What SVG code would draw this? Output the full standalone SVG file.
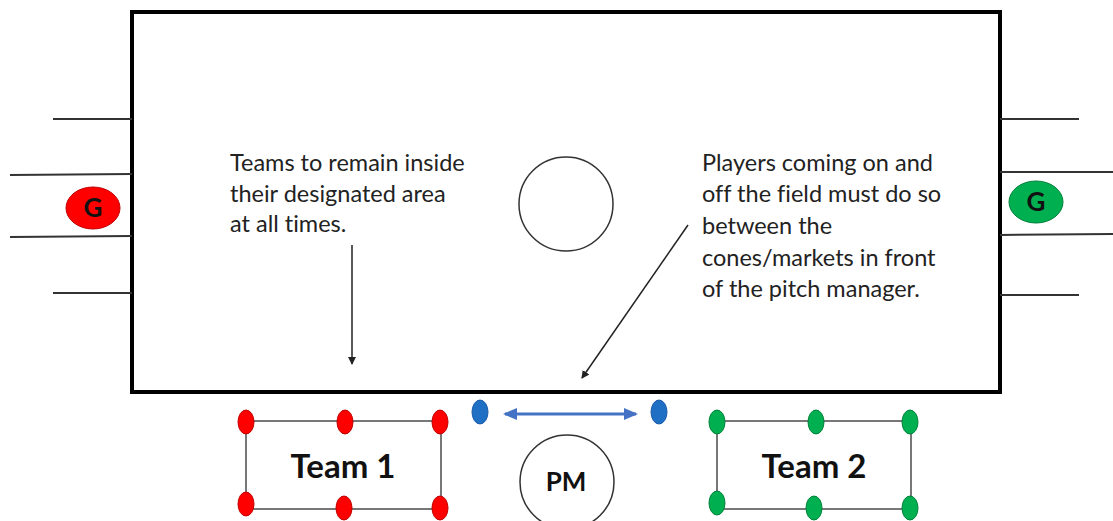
<svg xmlns="http://www.w3.org/2000/svg" width="1113" height="521" viewBox="0 0 1113 521">
<defs>
<style>
.line{stroke:#333;stroke-width:2;fill:none}
.note{font-family:Lato,"Open Sans",sans-serif;font-size:23.5px;fill:#222;font-variant-ligatures:none}
.lbl{font-family:Lato,"Open Sans",sans-serif;font-weight:bold;fill:#111;text-anchor:middle}
.red{fill:#FF0000;stroke:#C00000;stroke-width:1}
.green{fill:#00B050;stroke:#00803a;stroke-width:1}
.blue{fill:#1F6FC5;stroke:#1a5ca8;stroke-width:1}
.team{fill:none;stroke:#777;stroke-width:2}
</style>
<marker id="ah" markerWidth="8" markerHeight="8" refX="7" refY="4" orient="auto" markerUnits="userSpaceOnUse">
<path d="M0,0 L8,4 L0,8 Z" fill="#222"/>
</marker>
<marker id="bh" markerWidth="14" markerHeight="12" refX="12" refY="6" orient="auto-start-reverse" markerUnits="userSpaceOnUse">
<path d="M0,0 L14,6 L0,12 Z" fill="#4472C4"/>
</marker>
</defs>
<rect width="1113" height="521" fill="#fff"/>
<g id="pitch">
<rect x="132" y="12" width="868" height="380" fill="none" stroke="#000" stroke-width="4"/>
<circle cx="566" cy="204" r="47" fill="none" stroke="#333" stroke-width="1.5"/>
</g>
<g id="goal-left">
<line class="line" x1="53" y1="119" x2="132" y2="119"/>
<line class="line" x1="10" y1="175" x2="132" y2="174"/>
<line class="line" x1="10" y1="237" x2="132" y2="236"/>
<line class="line" x1="53" y1="293" x2="132" y2="293"/>
</g>
<g id="goal-right">
<line class="line" x1="1000" y1="119" x2="1079" y2="119"/>
<line class="line" x1="1000" y1="172" x2="1113" y2="172"/>
<line class="line" x1="1000" y1="235" x2="1113" y2="234"/>
<line class="line" x1="1000" y1="295" x2="1079" y2="295"/>
</g>
<g id="goalie-red">
<ellipse class="red" cx="93" cy="208" rx="27" ry="21"/>
<text class="lbl" x="93" y="217" font-size="26">G</text>
</g>
<g id="goalie-green">
<ellipse class="green" cx="1036" cy="202" rx="27" ry="21"/>
<text class="lbl" x="1036" y="211" font-size="26">G</text>
</g>
<g id="note-left">
<text class="note" x="230" y="171">Teams to remain inside</text>
<text class="note" x="230" y="202">their designated area</text>
<text class="note" x="230" y="232">at all times.</text>
</g>
<g id="note-right">
<text class="note" x="702" y="171">Players coming on and</text>
<text class="note" x="702" y="202">off the field must do so</text>
<text class="note" x="702" y="234">between the</text>
<text class="note" x="702" y="266">cones/markets in front</text>
<text class="note" x="702" y="297">of the pitch manager.</text>
</g>
<g id="connectors">
<line x1="352" y1="245" x2="352" y2="364" stroke="#222" stroke-width="1.5" marker-end="url(#ah)"/>
<line x1="688" y1="225" x2="582" y2="378" stroke="#222" stroke-width="1.5" marker-end="url(#ah)"/>
<line x1="505" y1="414" x2="636" y2="414" stroke="#4472C4" stroke-width="3" marker-start="url(#bh)" marker-end="url(#bh)"/>
</g>
<g id="team1">
<rect class="team" x="246" y="421" width="195" height="88"/>
<ellipse class="red" cx="246" cy="422" rx="8" ry="12"/>
<ellipse class="red" cx="345" cy="422" rx="8" ry="12"/>
<ellipse class="red" cx="440" cy="422" rx="8" ry="12"/>
<ellipse class="red" cx="246" cy="504" rx="8" ry="12"/>
<ellipse class="red" cx="344" cy="508" rx="8" ry="12"/>
<ellipse class="red" cx="440" cy="508" rx="8" ry="12"/>
<text class="lbl" x="343" y="478" font-size="33">Team 1</text>
</g>
<g id="cones">
<ellipse class="blue" cx="480" cy="412" rx="8" ry="12"/>
<ellipse class="blue" cx="659" cy="412" rx="8" ry="12"/>
</g>
<g id="pm">
<circle cx="567" cy="482" r="47" fill="#fff" stroke="#333" stroke-width="1.5"/>
<text class="lbl" x="566" y="491" font-size="26">PM</text>
</g>
<g id="team2">
<rect class="team" x="717" y="421" width="194" height="88"/>
<ellipse class="green" cx="717" cy="422" rx="8" ry="12"/>
<ellipse class="green" cx="816" cy="422" rx="8" ry="12"/>
<ellipse class="green" cx="910" cy="422" rx="8" ry="12"/>
<ellipse class="green" cx="717" cy="503" rx="8" ry="12"/>
<ellipse class="green" cx="814" cy="508" rx="8" ry="12"/>
<ellipse class="green" cx="910" cy="508" rx="8" ry="12"/>
<text class="lbl" x="814" y="478" font-size="33">Team 2</text>
</g>
</svg>
